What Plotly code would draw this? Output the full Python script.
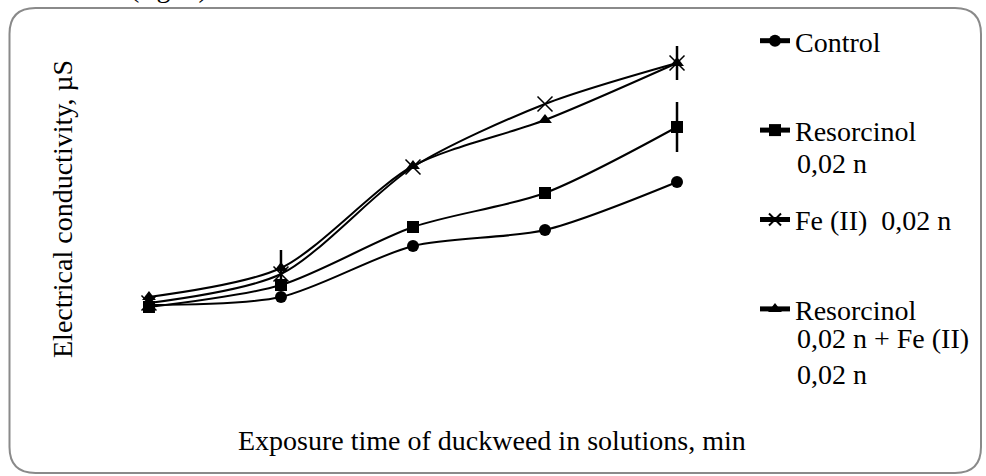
import plotly.graph_objects as go

# ---- data (y in arbitrary µS units, no scale shown) ----
exposure_step = [1, 2, 3, 4, 5]
control = [35, 43, 94, 110, 158]
resorcinol = [33, 55, 113, 147, 213]
fe_ii = [37, 66, 173, 236, 277]
resorcinol_fe = [43, 72, 174, 220, 277]
resorcinol_err = [0, 0, 0, 0, 25]
resorcinol_fe_err = [0, 18, 0, 0, 17]

# legend labels: first line in the legend, continuation lines as text beside it
series_names = ["Control", "Resorcinol", "Fe (II)  0,02 n", "Resorcinol"]
series_name_cont = ["", "0,02 n", "", "0,02 n + Fe (II)<br>0,02 n"]

FONT = "Liberation Serif, Times New Roman, serif"
FS = 28
W, H = 986, 476
L, R, T, B = 100, 222, 40, 96  # plot area: x 100..764, y 40..380

fig = go.Figure()

def add(y, name, symbol, size, err=None, lw=0, group=""):
    fig.add_trace(go.Scatter(
        x=exposure_step, y=y, name=name, mode="lines+markers",
        line=dict(color="black", width=2, shape="spline", smoothing=0.8),
        marker=dict(symbol=symbol, size=size, color="black",
                    line=dict(color="black", width=lw)),
        error_y=(dict(type="data", array=err, visible=True, color="black",
                      thickness=2.5, width=0) if err else None),
        cliponaxis=False,
        legendgroup=group,
    ))

add(control, series_names[0], "circle", 12, group="g1")
add(resorcinol, series_names[1], "square", 12, resorcinol_err, group="g2")
add(fe_ii, series_names[2], "x-thin", 15, lw=1.5, group="g3")
add(resorcinol_fe, series_names[3], "triangle-up", 12, resorcinol_fe_err, group="g4")

# helpers to convert pixel positions to paper coords for decorations
pw, ph = W - L - R, H - T - B
def px(x): return (x - L) / pw
def py(y): return (H - B - y) / ph

# rounded outer frame
l_, r_, t_, b_, rad = 9.5, 981, 8, 473, 26
path = (f"M {px(l_+rad)},{py(t_)} L {px(r_-rad)},{py(t_)} "
        f"Q {px(r_)},{py(t_)} {px(r_)},{py(t_+rad)} "
        f"L {px(r_)},{py(b_-rad)} Q {px(r_)},{py(b_)} {px(r_-rad)},{py(b_)} "
        f"L {px(l_+rad)},{py(b_)} Q {px(l_)},{py(b_)} {px(l_)},{py(b_-rad)} "
        f"L {px(l_)},{py(t_+rad)} Q {px(l_)},{py(t_)} {px(l_+rad)},{py(t_)} Z")
fig.add_shape(type="path", path=path, xref="paper", yref="paper",
              line=dict(color="#8a8a8a", width=2), layer="below")

txt = dict(family=FONT, size=FS, color="black")
fig.add_annotation(text="Exposure time of duckweed in solutions, min",
                   xref="paper", yref="paper", x=px(492), y=py(440),
                   xanchor="center", yanchor="middle", showarrow=False, font=txt)
fig.add_annotation(text="Electrical conductivity, µS", textangle=-90,
                   xref="paper", yref="paper", x=px(62), y=py(209),
                   xanchor="center", yanchor="middle", showarrow=False, font=txt)
fig.add_annotation(text="(fig. 5)", xref="paper", yref="paper",
                   x=px(169), y=py(-13), xanchor="center", yanchor="middle",
                   showarrow=False, font=txt)
# continuation lines of the legend labels
fig.add_annotation(text=series_name_cont[1], xref="paper", yref="paper",
                   x=px(795), y=py(163), xanchor="left", yanchor="middle",
                   align="left", showarrow=False, font=txt)
fig.add_annotation(text=series_name_cont[3], xref="paper", yref="paper",
                   x=px(795), y=py(356), xanchor="left", yanchor="middle",
                   align="left", showarrow=False, font=txt)

fig.update_layout(
    width=W, height=H,
    margin=dict(l=L, r=R, t=T, b=B),
    paper_bgcolor="white", plot_bgcolor="white",
    showlegend=True,
    legend=dict(x=px(755), y=py(16), xanchor="left", yanchor="top",
                font=txt, tracegroupgap=50, itemsizing="constant",
                maxheight=460, bgcolor="rgba(0,0,0,0)"),
    xaxis=dict(range=[0.629, 5.659], visible=False),
    yaxis=dict(range=[-40, 300], visible=False),
)

fig.write_html("out.html", config={"displayModeBar": False},
               post_script="document.body.style.margin='0';")
